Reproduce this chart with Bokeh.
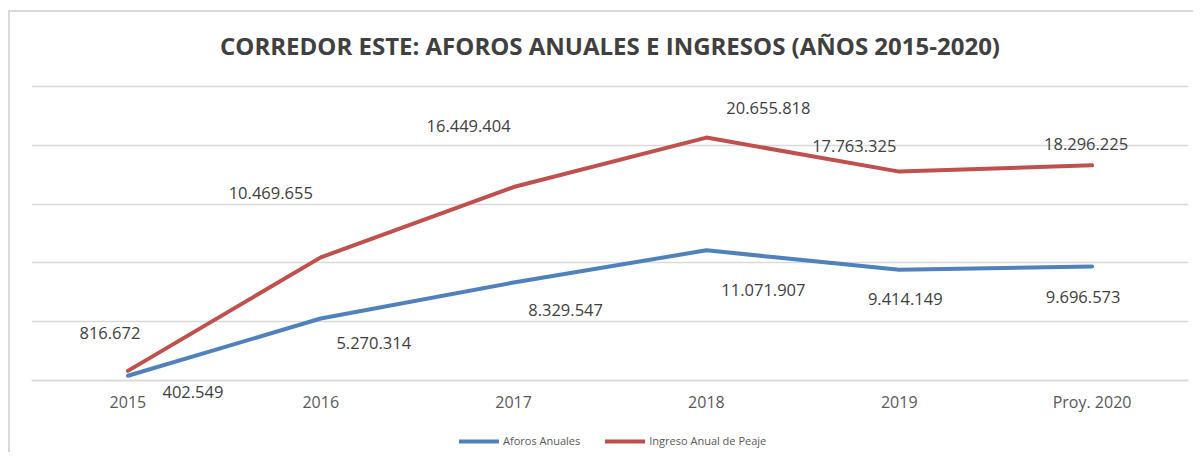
from bokeh.plotting import figure
from bokeh.models import (ColumnDataSource, Label, Legend, LegendItem, Range1d, FactorRange,
                          FixedTicker)
from bokeh.core.properties import value
from bokeh.embed import file_html
from bokeh.resources import INLINE

years = ["2015", "2016", "2017", "2018", "2019", "Proy. 2020"]
aforos = [402549, 5270314, 8329547, 11071907, 9414149, 9696573]
ingresos = [816672, 10469655, 16449404, 20655818, 17763325, 18296225]
aforos_labels = ["402.549", "5.270.314", "8.329.547", "11.071.907", "9.414.149", "9.696.573"]
ingresos_labels = ["816.672", "10.469.655", "16.449.404", "20.655.818", "17.763.325", "18.296.225"]
grid_ticks = [0, 5e6, 10e6, 15e6, 20e6, 25e6]

# label placement offsets (screen px, style only)
aforos_dx = [65, 53, 52, 57, 6, -9]
aforos_dy = [16, 24, 27, 40, 29, 31]
ingresos_dx = [-18, -50, -45, 62, -45, -6]
ingresos_dy = [-38, -64, -61, -30, -26, -21]

FONT = "Open Sans"
BLUE = "#4F81BD"
RED = "#C0504D"
GRID = "#D9D9D9"
TXT = "#404040"

# vertical extent: 294 px for 25M, plus room for title and axis/legend
k = 25e6 / 294.0
p = figure(width=1185, height=442, x_range=FactorRange(*years),
           y_range=Range1d(-74 * k, 25e6 + 74 * k),
           output_backend="svg", toolbar_location=None,
           min_border_left=21, min_border_right=7, min_border_top=0, min_border_bottom=0)
p.styles = {"margin-left": "8px", "margin-top": "10px",
            "border-left": "2px solid #D9D9D9", "border-top": "2px solid #D9D9D9"}
p.outline_line_color = None
p.background_fill_color = "white"
p.border_fill_color = "white"

p.yaxis.visible = False
p.ygrid.ticker = FixedTicker(ticks=grid_ticks)
p.ygrid.grid_line_color = GRID
p.ygrid.grid_line_width = 1.5
p.xgrid.grid_line_color = None

ax = p.xaxis[0]
ax.fixed_location = 0
ax.axis_line_color = GRID
ax.axis_line_width = 1.5
ax.major_tick_line_color = None
ax.minor_tick_line_color = None
ax.major_tick_out = 0
ax.major_tick_in = 0
ax.major_label_standoff = 10
ax.major_label_text_font = FONT
ax.major_label_text_font_size = "16px"
ax.major_label_text_color = "#595959"

src_a = ColumnDataSource(dict(x=years, y=aforos, t=aforos_labels, dx=aforos_dx, dy=aforos_dy))
src_i = ColumnDataSource(dict(x=years, y=ingresos, t=ingresos_labels, dx=ingresos_dx, dy=ingresos_dy))

la = p.line("x", "y", source=src_a, line_color=BLUE, line_width=4, line_join="round", line_cap="round")
li = p.line("x", "y", source=src_i, line_color=RED, line_width=4, line_join="round", line_cap="round")

for s in (src_a, src_i):
    p.text("x", "y", text="t", source=s, x_offset="dx", y_offset="dy",
           text_align="center", text_baseline="middle",
           text_font=value(FONT), text_font_size="16.5px", text_color=TXT)

title = Label(x=3.0, y=25e6 + 41 * k, text="CORREDOR ESTE: AFOROS ANUALES E INGRESOS (AÑOS 2015-2020)",
              text_align="center", text_baseline="middle", text_font=FONT,
              text_font_size="24px", text_font_style="bold", text_color=TXT)
p.add_layout(title)

legend = Legend(items=[LegendItem(label="Aforos Anuales", renderers=[la]),
                       LegendItem(label="Ingreso Anual de Peaje", renderers=[li])],
                orientation="horizontal", location=(428, 6),
                glyph_width=40, glyph_height=10, spacing=25, label_standoff=4,
                label_text_font=FONT, label_text_font_size="11px", label_text_color="#595959",
                border_line_color=None, background_fill_alpha=0, margin=0, padding=4)
p.add_layout(legend, "center")

open("out.html", "w").write(file_html(p, INLINE))
